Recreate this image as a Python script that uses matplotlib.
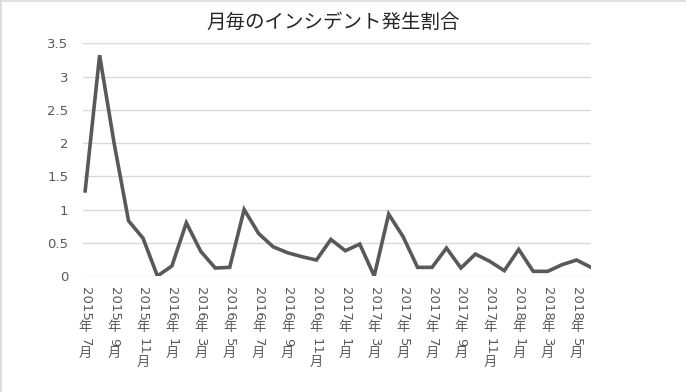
import matplotlib
matplotlib.use("Agg")
import matplotlib.pyplot as plt
from matplotlib.lines import Line2D

plt.rcParams['font.family'] = ['Noto Sans CJK JP', 'DejaVu Sans']

title = "月毎のインシデント発生割合"
years = [2015]*6 + [2016]*12 + [2017]*12 + [2018]*6
months = [7, 8, 9, 10, 11, 12] + list(range(1, 13)) + list(range(1, 13)) + list(range(1, 7))
values = [1.28, 3.32, 2.00, 0.83, 0.57, 0.00,
          0.15, 0.80, 0.37, 0.12, 0.13, 1.00,
          0.64, 0.44, 0.35, 0.29, 0.24, 0.55,
          0.38, 0.48, 0.00, 0.93, 0.59, 0.13,
          0.13, 0.42, 0.12, 0.33, 0.22, 0.08,
          0.40, 0.07, 0.07, 0.17, 0.24, 0.13]
yticks = [0, 0.5, 1, 1.5, 2, 2.5, 3, 3.5]
ytick_labels = ["0", "0.5", "1", "1.5", "2", "2.5", "3", "3.5"]

W, H, DPI = 686, 392, 100
fig = plt.figure(figsize=(W/DPI, H/DPI), dpi=DPI)
fig.patch.set_facecolor('white')

left, right, top, bottom = 83, 591, 43.3, 276
ax = fig.add_axes([left/W, 1 - bottom/H, (right-left)/W, (bottom-top)/H])

x = list(range(len(values)))
ax.plot(x, values, color='#595959', lw=2.6, solid_joinstyle='miter', zorder=3)
ax.set_xlim(-0.15, len(values) - 1)
ax.set_ylim(0, 3.5)
ax.set_yticks(yticks)
ax.set_yticklabels(ytick_labels, fontsize=9.5, color='#595959', family=['DejaVu Sans'])
ax.tick_params(axis='y', length=0, pad=10.5)
ax.set_xticks([])
ax.grid(axis='y', color='#d9d9d9', lw=1)
ax.set_axisbelow(True)
for s in ax.spines.values():
    s.set_visible(False)

fig.text(333/W, 1 - 22/H, title, ha='center', va='center',
         fontsize=14, color='#262626')

# x tick labels: vertical writing, digits rotated, CJK upright
fig.canvas.draw()
renderer = fig.canvas.get_renderer()
fs = 9.5
col = '#595959'
for i in range(0, len(values), 2):
    pieces = [(str(years[i]), True), ("年", False), (None, 2.5),
              (str(months[i]), True), ("月", False)]
    off = 8.0  # points below axis
    for txt, rot in pieces:
        if txt is None:
            off += rot
            continue
        t = ax.annotate(txt, xy=(i, 0), xycoords=('data', 'axes fraction'),
                        xytext=(0, -off), textcoords='offset points',
                        ha='center', va='top', rotation=-90 if rot else 0,
                        fontsize=fs, color=col, annotation_clip=False,
                        family=['DejaVu Sans'] if rot else ['Noto Sans CJK JP'])
        bb = t.get_window_extent(renderer)
        off += bb.height * 72 / DPI + 0.3

# chart border (top & left visible in reference)
fig.add_artist(Line2D([1/W, 1/W], [0, 1 - 1/H], transform=fig.transFigure, color='#d9d9d9', lw=1.2))
fig.add_artist(Line2D([1/W, 1], [1 - 1/H, 1 - 1/H], transform=fig.transFigure, color='#d9d9d9', lw=1.2))

fig.savefig('out.png', dpi=DPI, facecolor='white')
